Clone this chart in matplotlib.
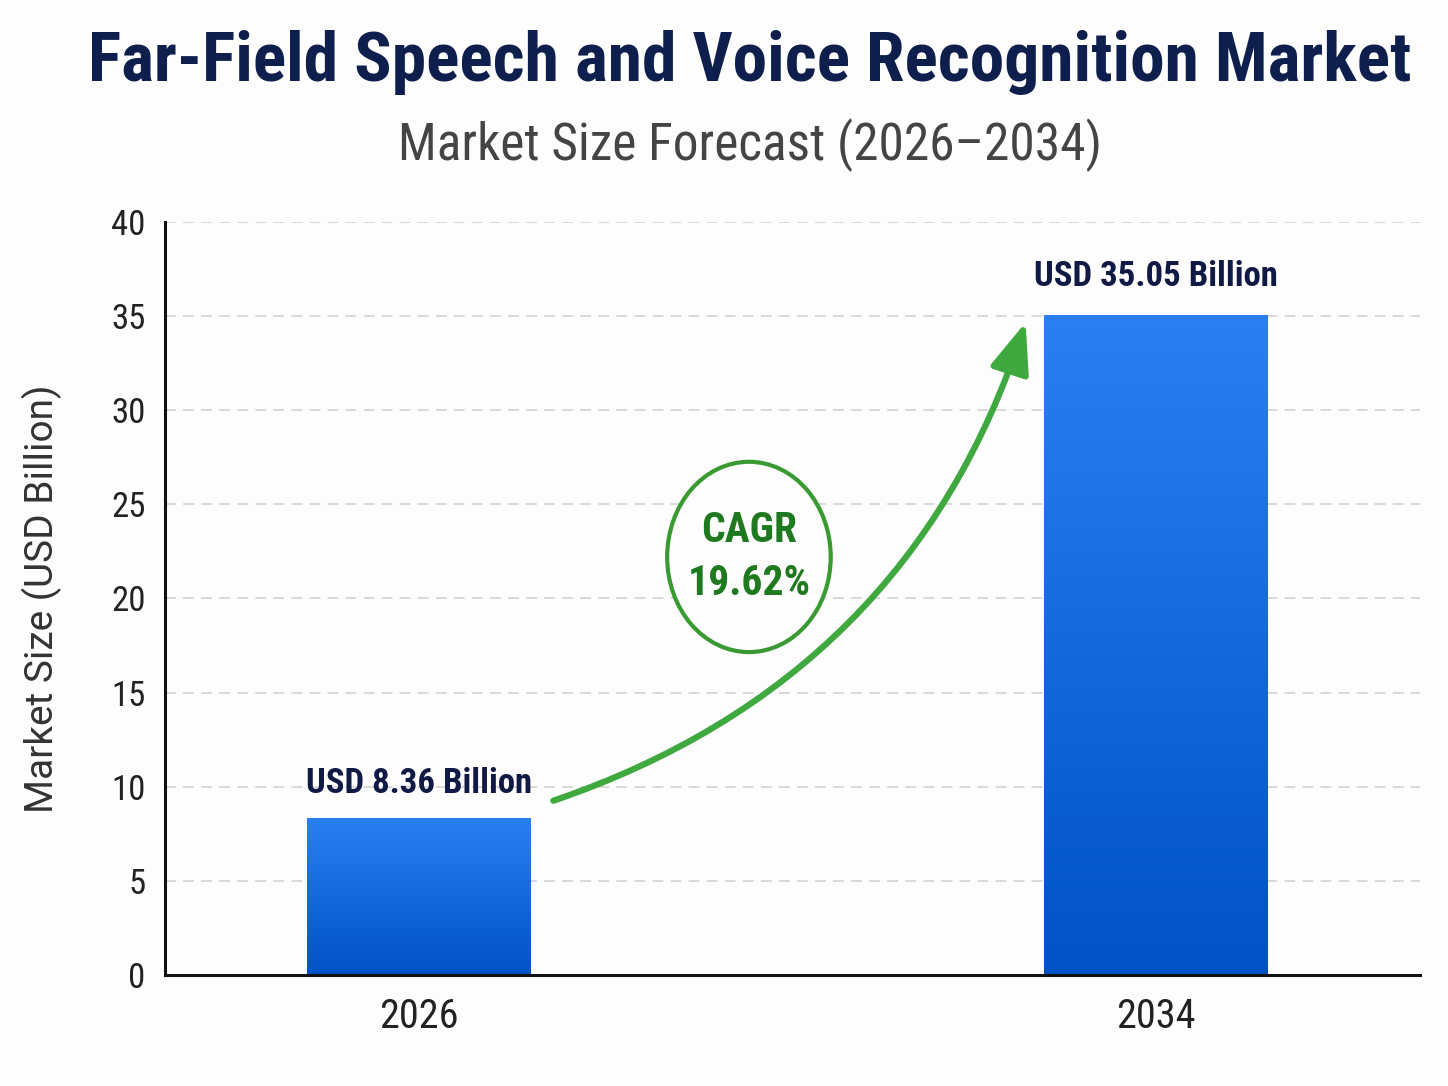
import numpy as np
import matplotlib
matplotlib.use("Agg")
import matplotlib.pyplot as plt
from matplotlib import font_manager
from matplotlib.patches import Ellipse
from matplotlib.colors import LinearSegmentedColormap

# ---------------- data ----------------
years = ["2026", "2034"]
values = [8.36, 35.05]
value_labels = ["USD 8.36 Billion", "USD 35.05 Billion"]
cagr_text = "CAGR\n19.62%"
title = "Far-Field Speech and Voice Recognition Market"
subtitle = "Market Size Forecast (2026\u20132034)"
ylabel = "Market Size (USD Billion)"
yticks = [0, 5, 10, 15, 20, 25, 30, 35, 40]

# ---------------- font choice ----------------
ttf = font_manager.fontManager.ttflist
names = {f.name for f in ttf}
family = None
stretch = "normal"
for cand in ["Roboto Condensed", "Liberation Sans Narrow", "Open Sans Condensed", "Noto Sans Condensed"]:
    if cand in names:
        family = cand
        break
if family is None:
    for base in ["Roboto", "Noto Sans", "Open Sans", "DejaVu Sans"]:
        if any(f.name == base and str(f.stretch) in ("condensed", "semi-condensed", "75", "87") for f in ttf):
            family = base
            stretch = "condensed"
            break
if family is None:
    family = "Liberation Sans"
plt.rcParams["font.family"] = [family, "DejaVu Sans"]
plt.rcParams["font.stretch"] = stretch
normal_family = ["Roboto", "DejaVu Sans"] if "Roboto" in names else ["DejaVu Sans"]

# ---------------- figure ----------------
fig = plt.figure(figsize=(14.48, 10.86), dpi=100)
fig.patch.set_facecolor("#fdfdfd")
ax = fig.add_axes([0.114, 0.102, 0.867, 0.694])
ax.set_facecolor("#fdfdfd")

x = np.arange(len(years))
bar_w = 0.304
bars = ax.bar(x, values, width=bar_w, color="#1a6be0", edgecolor="none", zorder=3)

# gradient fill (lighter at top, darker at bottom)
grad = np.linspace(0, 1, 256).reshape(-1, 1)
cmap = LinearSegmentedColormap.from_list("bl", ["#2a80f2", "#0052c6"])
for b in bars:
    x0, y0 = b.get_x(), b.get_y()
    w, h = b.get_width(), b.get_height()
    im = ax.imshow(grad, cmap=cmap, aspect="auto", origin="upper",
                   extent=(x0, x0 + w, y0, y0 + h),
                   zorder=4, interpolation="bicubic")
    im.set_clip_path(b)

ax.set_xlim(-0.345, 1.359)
ax.set_ylim(0, 40)
ax.set_yticks(yticks)
ax.set_xticks(x)
ax.set_xticklabels(years)

ax.grid(axis="y", color="#d6d6d6", linestyle=(0, (6, 4)), linewidth=1.3, zorder=0)
ax.set_axisbelow(True)
for s in ["top", "right"]:
    ax.spines[s].set_visible(False)
for s in ["left", "bottom"]:
    ax.spines[s].set_linewidth(2.2)
    ax.spines[s].set_color("#111111")
    ax.spines[s].set_zorder(6)

ax.tick_params(axis="y", length=0, pad=14, labelsize=25, labelcolor="#222222")
ax.tick_params(axis="x", length=0, pad=16, labelsize=29, labelcolor="#222222")

ax.set_ylabel(ylabel, fontsize=28, color="#333333", family=normal_family)
ax.yaxis.set_label_coords(-0.082, 0.5)

# value labels
offsets = [13, 16]
for xi, v, lab, off in zip(x, values, value_labels, offsets):
    ax.annotate(lab, (xi, v), xytext=(0, off), textcoords="offset points",
                ha="center", va="bottom", fontsize=25, fontweight="bold",
                color="#111a44", zorder=7)

# CAGR arrow
start = (x[0] + bar_w / 2 + 0.03, values[0] + 0.9)
end = (x[1] - bar_w / 2 - 0.025, values[1] - 0.4)
ax.annotate("", xy=end, xytext=start,
            arrowprops=dict(arrowstyle="-|>,head_length=1.4,head_width=0.55",
                            connectionstyle="arc3,rad=0.25",
                            color="#3fa83f", lw=4.5, mutation_scale=22,
                            shrinkA=0, shrinkB=0),
            zorder=5)

# CAGR ellipse
cx, cy = 0.4475, 22.2
ell = Ellipse((cx, cy), width=0.222, height=10.1, facecolor="#fdfdfd",
              edgecolor="#3a9a32", lw=3, zorder=6)
ax.add_patch(ell)
ax.text(cx, cy, cagr_text, ha="center", va="center", fontsize=30,
        fontweight="bold", color="#1f7a1f", linespacing=1.4, zorder=7)

# titles
fig.text(0.518, 0.942, title, ha="center", va="center", fontsize=50,
         fontweight="bold", color="#0f1f4d")
fig.text(0.518, 0.866, subtitle, ha="center", va="center", fontsize=37,
         color="#444444")

fig.savefig("out.png", dpi=100, facecolor=fig.get_facecolor())
